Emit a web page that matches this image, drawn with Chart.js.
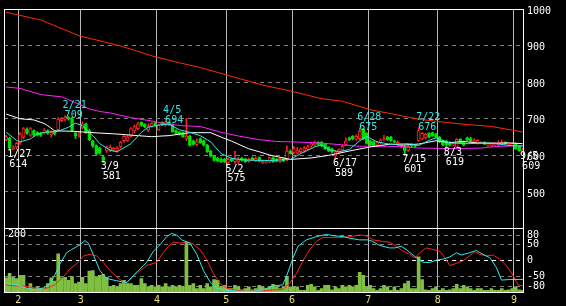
<!DOCTYPE html>
<html>
<head>
<meta charset="utf-8">
<style>
  html, body { margin: 0; padding: 0; background: #000; }
  #wrap { width: 566px; height: 306px; }
</style>
</head>
<body>
<div id="wrap"><canvas id="chart" width="566" height="306"></canvas></div>
<script src="https://cdn.jsdelivr.net/npm/chart.js@4.4.1/dist/chart.umd.min.js"></script>
<script>
// trading days 2022/1/26 .. 2022/9/5, x = day index 0..149
const monthStarts = [3.5, 21.5, 43.5, 63.5, 82.5, 104.5, 124.5, 146.5];
const monthLabels = ["2", "3", "4", "5", "6", "7", "8", "9"];
const priceTicks = [500, 600, 700, 800, 900, 1000];
const oscTicks = [-80, -50, 0, 50, 80];
const volTop = 200;

// [open, high, low, close]
const ohlc = [
  // Jan
  [643,655,640,651],[647,650,614,620],[618,627,615,623],[623,635,617,633],
  // Feb
  [635,662,630,657],[650,676,645,673],[672,675,657,660],[655,676,652,673],[668,670,652,655],
  [662,665,653,656],[660,663,652,655],[662,673,658,670],[668,670,657,660],[657,667,650,663],
  [665,668,655,658],[670,703,667,699],[695,704,692,700],[698,709,694,703],[703,706,696,699],
  [700,704,665,668],[660,665,646,653],[655,662,650,658],
  // Mar
  [676,692,672,686],[686,688,660,663],[668,672,640,643],[640,642,622,625],[627,629,600,603],
  [620,623,603,606],[596,598,581,586],[612,626,608,623],[615,628,610,622],[614,622,610,619],
  [612,624,608,620],[624,638,620,636],[640,654,636,652],[641,654,638,651],[652,676,650,673],
  [666,683,662,679],[673,690,670,686],[690,692,679,682],[684,687,676,678],[670,686,665,678],
  [680,690,677,688],[688,690,680,682],
  // Apr
  [670,684,668,682],[690,692,682,684],[684,694,680,692],[690,692,682,684],[684,686,663,665],
  [668,670,658,660],[664,666,655,658],[662,664,649,651],[645,701,640,653],[652,655,625,627],
  [640,642,628,630],[630,645,626,638],[645,648,633,635],[640,642,626,628],[628,630,608,610],
  [612,614,596,598],[598,600,584,586],[592,595,583,585],[590,593,580,582],[590,592,580,583],
  // May
  [580,592,575,589],[590,593,583,585],[583,611,578,590],[582,595,577,588],[592,595,584,586],
  [590,592,581,583],[584,592,581,589],[593,596,586,588],[585,596,583,592],[594,596,582,584],
  [580,587,578,584],[580,586,578,583],[582,596,580,594],[594,596,581,583],[590,592,582,584],
  [583,594,581,592],[591,593,583,585],[588,626,585,612],[612,615,603,605],
  // Jun
  [608,625,604,618],[606,622,603,613],[610,621,607,618],[612,624,609,620],[617,628,614,624],
  [625,636,622,632],[628,640,625,634],[636,638,628,630],[636,638,623,625],[630,632,616,618],
  [622,624,610,612],[618,620,606,610],[598,614,589,610],[608,618,604,616],[614,628,611,624],
  [630,648,627,640],[648,650,640,642],[652,654,643,645],[644,656,641,652],[646,675,642,666],
  [672,674,643,645],[660,662,631,633],
  // Jul
  [640,642,626,628],[638,640,623,625],[628,638,625,635],[634,645,631,642],[643,655,640,645],
  [650,652,641,643],[650,652,638,640],[640,642,634,636],[630,640,627,636],[624,632,620,630],
  [625,627,601,612],[614,628,611,625],[630,632,624,626],[628,630,622,625],[640,676,638,668],
  [645,662,642,660],[648,660,645,658],[660,662,648,650],[662,664,652,654],[658,660,648,650],
  // Aug
  [650,652,635,637],[640,642,626,628],[638,642,619,628],[636,638,626,628],[628,634,625,632],
  [623,646,620,644],[644,646,633,635],[638,640,626,628],[648,650,640,642],[646,650,637,639],
  [637,645,635,641],[633,643,631,641],[635,638,633,636],[636,638,629,631],[627,634,625,632],
  [626,634,624,632],[628,636,626,634],[628,640,626,634],[630,642,628,636],[636,638,630,632],
  [630,636,628,634],[628,634,626,632],
  // Sep
  [632,634,616,618],[624,626,611,613],[612,620,609,616]
];

const volumes = [
  47,61,49,45,55,55,14,29,14,19, 14,14,29,47,37,122,47,49,39,51,
  29,34,49,29,68,70,51,55,58,49, 19,24,19,29,39,29,29,24,24,45,
  29,19,24,19,24,19,29,19,24,19, 24,19,158,24,29,14,24,14,29,19,
  42,39,20,24,14,14,24,19,10,14, 19,10,14,24,19,14,19,27,19,14,
  20,52,19,19,19,8,8,24,27,19, 8,14,24,24,10,19,14,24,19,24,
  19,24,64,55,19,24,14,8,14,24, 19,8,19,8,14,29,37,14,14,112,
  42,10,8,14,19,8,14,8,10,14, 27,14,24,19,14,8,14,14,8,8,
  14,8,8,14,8,10,14,19,10,8
];

// moving averages, [day, price]
const maTrend = [[0,991],[10,970],[21,927],[33,899],[42,872],[50,853],[56,840],[74,792],[82,776],
  [91,755],[97,748],[105,725],[119,699],[127,690],[132,685],[140,679],[146,669],[149,664]];
const maMid = [[0,787],[4,783],[10,766],[16,760],[21,740],[24,727],[27,720],[30,716],[36,703],
  [42,694],[47,685],[51,681],[56,679],[62,663],[67,653],[73,643],[78,638],[82,637],[88,635],
  [93,632],[99,627],[102,625],[110,625],[115,623],[119,620],[126,619],[132,619],[137,620],
  [141,624],[146,626],[149,627]];
const maSlow = [[0,713],[4,700],[8,697],[11,687],[12,681],[14,667],[19,666],[22,664],[27,661],
  [31,659],[38,654],[42,651],[45,653],[47,654],[53,662],[59,662],[62,650],[65,639],[70,618],
  [73,610],[76,601],[82,589],[88,593],[93,600],[99,612],[105,623],[111,631],[114,628],
  [119,631],[124,640],[128,635],[132,638],[136,634],[140,633],[145,634],[149,632]];
const maFast = [[0,663],[3,641],[4,637],[7,645],[9,659],[11,663],[15,666],[18,677],[20,688],
  [22,681],[24,663],[25,654],[27,632],[30,614],[32,610],[36,632],[39,663],[41,677],[44,683],
  [47,685],[50,670],[53,663],[56,654],[59,637],[62,605],[65,592],[69,587],[76,586],[82,589],
  [85,605],[89,623],[91,629],[93,616],[96,610],[99,616],[102,640],[104,652],[107,637],
  [111,630],[116,632],[119,627],[122,641],[124,648],[128,634],[133,632],[140,634],[145,627],
  [149,625]];

// oscillator, [day, value]
const oscFast = [[0,-70],[3,-75],[6,-85],[7.8,-90],[10.7,-85],[12.6,-70],[14,-45],[15.5,-10],
  [17.4,25],[18.9,35],[21.3,50],[22.7,63],[23.7,55],[25.1,20],[27,-30],[29,-55],[31.9,-62],
  [34.8,-68],[36.7,-45],[38.6,-25],[40.5,-5],[42.5,30],[44.4,50],[46.3,75],[47.7,85],
  [49.2,80],[50.6,65],[53,55],[55,20],[56.9,-30],[58.8,-65],[60.7,-85],[63.6,-92],[67.5,-95],
  [71.3,-95],[74.2,-90],[77,-78],[79.8,-75],[80.8,-50],[82.8,10],[84.2,45],[86.6,65],
  [89.5,75],[92.4,82],[94.3,78],[97.2,75],[99.1,70],[102,65],[104.4,65],[105.8,60],
  [107.3,50],[108.7,45],[110.6,40],[112.1,40],[114,45],[115.4,35],[118.3,10],[120.3,-5],
  [122.2,-5],[124.1,2],[126,5],[128,12],[129.9,25],[131.3,18],[133.7,25],[135.6,32],
  [137.6,20],[139.5,10],[141.4,-20],[142.9,-60],[145.3,-58],[149.1,-58]];
const oscSlow = [[0,-75],[3,-78],[6,-80],[8.8,-85],[11.7,-85],[14,-75],[16.5,-50],[18.4,-25],
  [20.3,-10],[22.3,15],[24.2,20],[26.1,15],[28,-5],[29.9,-30],[31.9,-50],[34.3,-70],
  [36.2,-55],[38.1,-35],[40.5,-15],[43.4,-5],[45.3,25],[46.8,45],[48.2,58],[50.1,55],
  [52.1,58],[53.5,55],[55.9,35],[57.8,5],[59.8,-40],[61.7,-70],[63.6,-85],[66.5,-92],
  [69.4,-95],[72.3,-93],[75.1,-92],[78,-90],[79.9,-88],[81.8,-70],[83.7,-40],[85.6,0],
  [87.6,35],[89.5,60],[91.4,73],[94.3,72],[96.2,72],[99.1,75],[102,80],[103.9,78],
  [105.8,65],[108.7,60],[110.6,58],[112.6,45],[114.5,30],[116.4,20],[117.9,8],[119.3,25],
  [121.2,40],[123.1,35],[125.1,30],[126.5,10],[128,-15],[129.9,-8],[131.8,0],[133.7,15],
  [135.2,28],[136.6,20],[138.5,15],[140.5,18],[142.4,5],[144.3,-15],[146.2,-45],[147.7,-75],
  [149.1,-78]];

// high / low marks
const markDays = [1, 17, 28, 46, 64, 95, 102, 115, 119, 127, 149];
const markDates = ["1/27", "2/21", "3/9", "4/5", "5/2", "6/17", "6/28", "7/15", "7/22", "8/3", "9/5"];
const markPrices = [614, 709, 581, 694, 575, 589, 675, 601, 676, 619, 609];
const markHigh = [false, true, false, true, false, false, true, false, true, false, false];

const UP = "#ff2020";
const DOWN = "#00e000";
const FONT = { family: "'DejaVu Sans Mono', monospace", size: 10 };

const pairs = (arr) => arr.map(([x, y]) => ({ x, y }));
const isUp = (r) => r[3] >= r[0];

const line = (label, data, color, axis) => ({
  type: "line",
  label,
  data: pairs(data),
  yAxisID: axis,
  borderColor: color,
  borderWidth: 1,
  pointRadius: 0,
  tension: 0,
  fill: false,
  order: 0,
});

const overlay = {
  id: "overlay",
  afterDatasetsDraw(chart) {
    const { ctx, chartArea: a, scales } = chart;
    ctx.save();
    ctx.strokeStyle = "#fff";
    ctx.lineWidth = 1;
    ctx.strokeRect(a.left + 0.5, a.top + 0.5, a.right - a.left - 1, a.bottom - a.top - 1);
    const sep = Math.round(scales.osc.top) - 0.5;
    ctx.beginPath();
    ctx.moveTo(a.left, sep);
    ctx.lineTo(a.right, sep);
    ctx.stroke();

    ctx.font = "10px 'DejaVu Sans Mono', monospace";
    ctx.textAlign = "left";
    ctx.textBaseline = "alphabetic";
    markDays.forEach((d, k) => {
      const px = scales.x.getPixelForValue(d);
      const py = scales.y.getPixelForValue(markPrices[k]);
      const valueBase = markHigh[k] ? py + 2 : py + 16.5;
      ctx.fillStyle = markHigh[k] ? "#30e8e8" : "#fff";
      ctx.fillText(markDates[k], px - 2.5, valueBase - 9.5);
      ctx.fillText(String(markPrices[k]), px - 0.5, valueBase);
    });

    ctx.fillStyle = "#fff";
    ctx.fillText(String(volTop), a.left + 4, scales.vol.getPixelForValue(volTop) + 8);
    ctx.restore();
  },
};

new Chart(document.getElementById("chart"), {
  type: "bar",
  data: {
    datasets: [
      line("MA fast", maFast, "#30e8e8", "y"),
      line("MA 25", maSlow, "#ffffff", "y"),
      line("MA 75", maMid, "#ff20ff", "y"),
      line("MA 200", maTrend, "#ff2a00", "y"),
      line("osc fast", oscFast, "#30e8e8", "osc"),
      line("osc slow", oscSlow, "#ff2020", "osc"),
      {
        label: "body",
        data: ohlc.map((r, i) => ({ x: i, y: [r[0], r[3]] })),
        yAxisID: "y",
        backgroundColor: ohlc.map((r) => (isUp(r) ? "#000" : DOWN)),
        borderColor: ohlc.map((r) => (isUp(r) ? UP : DOWN)),
        borderWidth: 1,
        borderSkipped: false,
        barThickness: 3,
        grouped: false,
        order: 1,
      },
      {
        label: "wick",
        data: ohlc.map((r, i) => ({ x: i, y: [r[2], r[1]] })),
        yAxisID: "y",
        backgroundColor: ohlc.map((r) => (isUp(r) ? UP : DOWN)),
        barThickness: 1,
        grouped: false,
        order: 2,
      },
      {
        label: "volume",
        data: volumes.map((v, i) => ({ x: i, y: v })),
        yAxisID: "vol",
        backgroundColor: "#80c040",
        barThickness: 3,
        grouped: false,
        order: 5,
      },
    ],
  },
  options: {
    responsive: false,
    animation: false,
    events: [],
    layout: { padding: { left: 4, top: 2, right: 0, bottom: 0 } },
    plugins: { legend: { display: false }, tooltip: { enabled: false } },
    scales: {
      x: {
        type: "linear",
        position: "bottom",
        min: -0.63,
        max: 149.4,
        offset: false,
        grid: { color: "#b8b8b8", lineWidth: 1, drawTicks: false, offset: false },
        border: { display: false },
        afterBuildTicks: (s) => { s.ticks = monthStarts.map((v) => ({ value: v })); },
        afterFit: (s) => { s.height = 13; },
        ticks: {
          color: "#e8e070",
          font: FONT,
          padding: 1,
          autoSkip: false,
          maxRotation: 0,
          callback: (v, i) => monthLabels[i],
        },
      },
      y: {
        type: "linear",
        position: "right",
        stack: "panels",
        stackWeight: 225,
        min: 400,
        max: 1000,
        grid: { color: "#808080", drawTicks: false },
        border: { display: false, dash: [4, 4] },
        afterBuildTicks: (s) => { s.ticks = priceTicks.map((v) => ({ value: v })); },
        afterFit: (s) => { s.width = 42; },
        ticks: {
          color: "#fff", font: FONT, padding: 3, labelOffset: 2, autoSkip: false,
          callback: (v) => String(v),
        },
      },
      osc: {
        type: "linear",
        position: "right",
        stack: "panels",
        stackWeight: 66,
        min: -100,
        max: 100,
        grid: {
          color: (c) => (c.tick && c.tick.value === 0 ? "#ffffff" : "#808080"),
          drawTicks: false,
        },
        border: { display: false, dash: [4, 4] },
        afterBuildTicks: (s) => { s.ticks = oscTicks.map((v) => ({ value: v })); },
        afterFit: (s) => { s.width = 42; },
        ticks: {
          color: "#fff", font: FONT, padding: 3, autoSkip: false,
          callback: (v) => String(v),
        },
      },
      // left stack is laid out in reverse order: vol ends up at the bottom
      vol: {
        type: "linear",
        position: "left",
        stack: "left",
        stackWeight: 66,
        min: 0,
        max: volTop,
        display: false,
      },
      volPad: {
        type: "linear",
        position: "left",
        stack: "left",
        stackWeight: 225,
        display: false,
      },
    },
  },
  plugins: [overlay],
});
</script>
</body>
</html>
